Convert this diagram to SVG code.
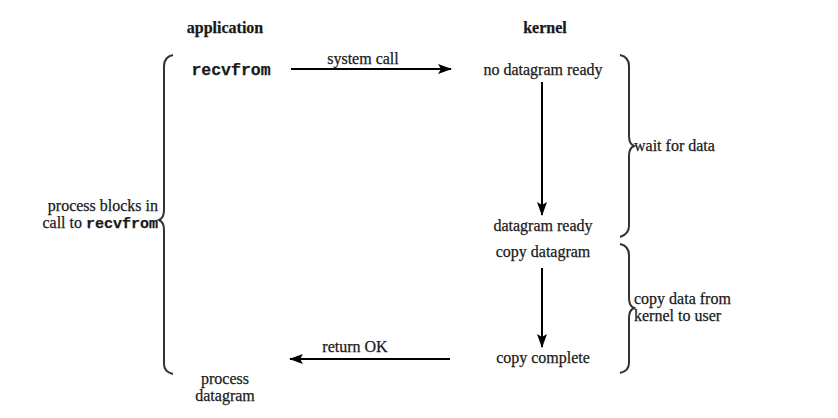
<svg xmlns="http://www.w3.org/2000/svg" width="838" height="418" viewBox="0 0 838 418">
<defs>
<marker id="ah" markerWidth="14" markerHeight="10" refX="13" refY="5" orient="auto" markerUnits="userSpaceOnUse">
<path d="M0,0 L14,5 L0,10 L3,5 Z" fill="#000"/>
</marker>
<style>
text{font-family:"Liberation Serif","DejaVu Serif",serif;font-size:16px;fill:#1a1a1a;stroke:#1a1a1a;stroke-width:0.25}
.b{font-weight:bold}
.m{font-family:"Liberation Mono","DejaVu Sans Mono",monospace;font-weight:bold;font-size:16.5px}
.m2{font-family:"Liberation Mono","DejaVu Sans Mono",monospace;font-weight:bold;font-size:15px}
.c{text-anchor:middle}
.r{text-anchor:end}
.ln{stroke:#000;stroke-width:2;fill:none}
.br{stroke:#333;stroke-width:2;fill:none}
</style>
</defs>
<rect width="838" height="418" fill="#fff"/>
<g id="headers">
<text class="b c" x="225" y="33">application</text>
<text class="b c" x="545" y="33">kernel</text>
</g>
<g id="recvfrom"><text class="m c" x="231" y="75">recvfrom</text></g>
<g id="no-datagram-ready"><text class="c" x="543" y="75">no datagram ready</text></g>
<g id="datagram-ready"><text class="c" x="543" y="231">datagram ready</text></g>
<g id="copy-datagram"><text class="c" x="543" y="257">copy datagram</text></g>
<g id="copy-complete"><text class="c" x="543" y="363">copy complete</text></g>
<g id="process-datagram">
<text class="c" x="225" y="384">process</text>
<text class="c" x="225" y="401">datagram</text>
</g>
<g id="process-blocks">
<text class="r" x="158" y="211">process blocks in</text>
<text class="r" x="158" y="228">call to <tspan class="m2">recvfrom</tspan></text>
</g>
<g id="wait-for-data"><text x="634" y="151">wait for data</text></g>
<g id="copy-data">
<text x="634" y="304">copy data from</text>
<text x="634" y="321">kernel to user</text>
</g>
<g id="braces">
<path class="br" d="M173,55 Q164,57 164,66 L164,210 Q164,218 159,220 Q164,222 164,230 L164,364 Q164,372 173,374"/>
<path class="br" d="M620,55 Q629,57 629,66 L629,136 Q629,144 634,146 Q629,148 629,156 L629,226 Q629,234 620,237"/>
<path class="br" d="M620,244 Q629,246 629,255 L629,298 Q629,306 634,308 Q629,310 629,318 L629,363 Q629,371 620,373"/>
</g>
<g id="connectors">
<line class="ln" x1="291" y1="69" x2="451" y2="69" marker-end="url(#ah)"/>
<text class="c" x="363" y="64">system call</text>
<line class="ln" x1="542" y1="82" x2="542" y2="215" marker-end="url(#ah)"/>
<line class="ln" x1="542" y1="268" x2="542" y2="347" marker-end="url(#ah)"/>
<line class="ln" x1="450" y1="359" x2="290" y2="359" marker-end="url(#ah)"/>
<text class="c" x="355" y="352">return OK</text>
</g>
</svg>
